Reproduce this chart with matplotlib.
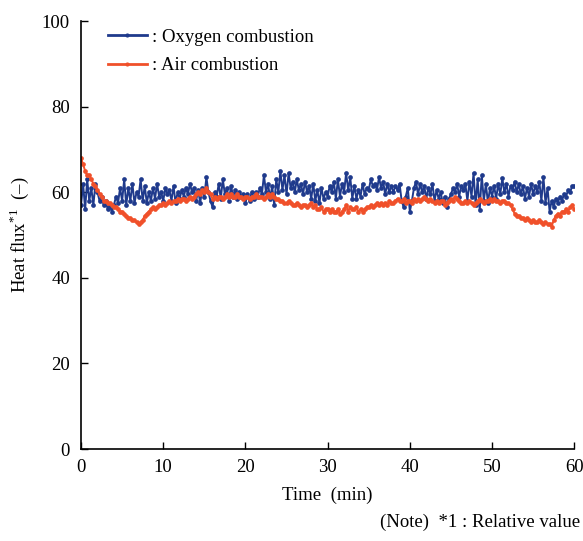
import matplotlib
matplotlib.use("Agg")
from matplotlib import pyplot as plt
import numpy as np

plt.rcParams['font.family'] = ['Liberation Serif', 'DejaVu Serif']
plt.rcParams['mathtext.fontset'] = 'custom'
plt.rcParams['mathtext.rm'] = 'Liberation Serif'

# sampled every 0.25 min, 0..60 min
time = np.arange(0, 60.01, 0.25)

oxygen = [
    57, 62, 56, 63, 58, 61, 57, 62, 60, 58, 59, 57, 58, 56, 57, 55.5,
    57, 59, 57.5, 61, 58, 63, 57, 61, 58, 62, 57.5, 60, 59, 63, 58, 61.5,
    57.5, 60, 58, 61, 58.5, 62, 59, 60, 58, 61, 59.5, 60.5, 58, 61.5, 57.5, 60,
    58.5, 60.5, 59, 61, 59.5, 62, 60, 61, 58, 60.5, 57.5, 61, 59, 63.5, 60, 58,
    56.5, 60, 59, 62, 58.5, 63, 59.5, 61, 58, 61.5, 59, 60.5, 58.5, 60, 59, 59.5,
    57.5, 59.5, 58, 60, 58.5, 60, 59, 61, 59.5, 64, 60, 62, 58.5, 61.5, 57, 63,
    60, 65, 60.5, 64, 59.5, 64.5, 61, 62.5, 60, 63, 60.5, 62, 59.5, 62.5, 60, 61.5,
    58.5, 62, 58, 60.5, 57.5, 61, 58.5, 60, 59, 61.5, 60, 62.5, 58.5, 63, 59, 62,
    60, 64.5, 60.5, 63.5, 58.5, 61.5, 58.5, 60.5, 59, 62, 59.5, 61, 60.5, 63, 61.5, 62,
    60.5, 63.5, 61, 62.5, 59.5, 62, 60, 61.5, 60, 61.5, 60.5, 62, 58, 56.5, 59, 61,
    55.5, 58, 61, 62.5, 59.5, 62, 60, 61.5, 58.5, 61, 59.5, 62, 58, 60.5, 58.5, 60,
    57.5, 59, 56.5, 58.5, 59.5, 61, 60, 62, 59, 61.5, 60.5, 62, 58, 62.5, 59, 64.5,
    57, 63, 55.8, 64, 58, 62, 57.5, 61, 59, 61.5, 58.5, 62, 59.5, 63.3, 60, 62,
    59, 61.5, 60.5, 62.5, 60, 62, 59.5, 61.5, 58.5, 61, 59, 62, 59.5, 61.5, 60, 62.5,
    58, 63.5, 57.5, 61, 55.5, 58, 56.5, 58.5, 57.5, 59, 58, 59.5, 59, 60.5, 60, 61.5,
    61.5,
]

air = [
    68, 66.5, 65, 64, 64, 63, 62, 61.5, 60.5, 59.5, 59, 58, 58, 57.5, 57.5, 57,
    56.5, 56.5, 56, 55.5, 55.5, 55, 54.5, 54, 54, 53.5, 53.5, 53, 52.5, 53, 53.5, 54.5,
    55, 55.5, 56, 56.5, 56, 56.5, 57, 57, 57.5, 57, 57.5, 58, 57.5, 58, 58, 58.5,
    58, 58.5, 58.5, 58, 58.5, 59, 58.5, 59, 59.5, 60, 59.5, 60.5, 60, 61, 60, 59.5,
    58.5, 59, 58.5, 59, 59, 58.5, 59, 59.5, 59, 59.5, 59, 59, 59.5, 59, 59, 58.5,
    59, 59, 58.5, 59, 59, 59.5, 59, 59, 59, 58.5, 59, 59.5, 59, 59.5, 59, 58.5,
    58.5, 58, 58, 57.5, 57.5, 58, 57.5, 57, 57, 57.5, 57, 56.5, 57, 57, 56.5, 57,
    57.5, 56.5, 57, 56, 56, 56.5, 55.5, 56, 56, 55.5, 56, 55.5, 55.5, 56, 55, 55.5,
    56, 57, 55.5, 56.5, 56, 56, 56.5, 55.5, 56, 55.5, 56, 56.5, 56.5, 57, 56.5, 57,
    57.5, 57, 57.5, 57, 57.5, 57, 58, 57.5, 57.5, 58, 58.5, 58, 58, 58.5, 57.5, 58,
    58, 57.5, 58.5, 58, 58.5, 58, 58.5, 59, 58.5, 58, 58.5, 58, 57.5, 58, 57.5, 58,
    58, 57, 57.5, 58, 58.5, 58, 59, 58.5, 58, 57.5, 57.5, 58, 57.5, 58, 57.5, 57,
    57.5, 58, 58.5, 58, 57.5, 58, 58, 58.5, 58, 58.5, 58, 58, 57.5, 58, 58, 57.5,
    57.5, 57, 56, 55, 54.5, 54.5, 54, 54, 53.5, 54, 53.5, 53, 53.5, 53, 53, 53.5,
    53, 52.5, 53, 52.5, 52.5, 52, 53.5, 54.5, 55, 54.5, 55.5, 55.5, 56, 55.5, 56.5, 57,
    56,
]

blue = '#1f3a8c'
orange = '#f0502a'

fig = plt.figure(figsize=(5.83, 5.41), dpi=100)
ax = fig.add_axes([0.139, 0.170, 0.846, 0.791])

ax.plot(time, oxygen, color=blue, lw=1.4, marker='o', ms=3.4, mew=0,
        label=': Oxygen combustion')
ax.plot(time, air, color=orange, lw=1.4, marker='o', ms=3.4, mew=0,
        label=': Air combustion')

ax.set_xlim(0, 60)
ax.set_ylim(0, 100)
ax.set_xticks(range(0, 61, 10))
ax.set_yticks(range(0, 101, 20))
ax.tick_params(direction='in', length=5, width=1, labelsize=13.5)
ax.tick_params(axis='x', pad=7)
ax.tick_params(axis='y', pad=8)
for s in ['top', 'right']:
    ax.spines[s].set_visible(False)
for s in ['left', 'bottom']:
    ax.spines[s].set_linewidth(1.2)

ax.set_xlabel('Time  (min)', fontsize=13.5, labelpad=8)
ax.set_ylabel('Heat flux$^{\\mathrm{*1}}$  (\u2013)', fontsize=13.5, labelpad=8)

leg = ax.legend(loc='upper left', bbox_to_anchor=(0.02, 1.022), frameon=False,
                fontsize=13.5, handlelength=2.1, handletextpad=0.25, numpoints=1,
                labelspacing=0.62)
for h in leg.legend_handles:
    h.set_linewidth(2)
    h.set_markersize(3)

fig.text(0.995, 0.018, '(Note)  *1 : Relative value', ha='right', va='bottom',
         fontsize=13.5)

fig.savefig('out.png', dpi=100)
